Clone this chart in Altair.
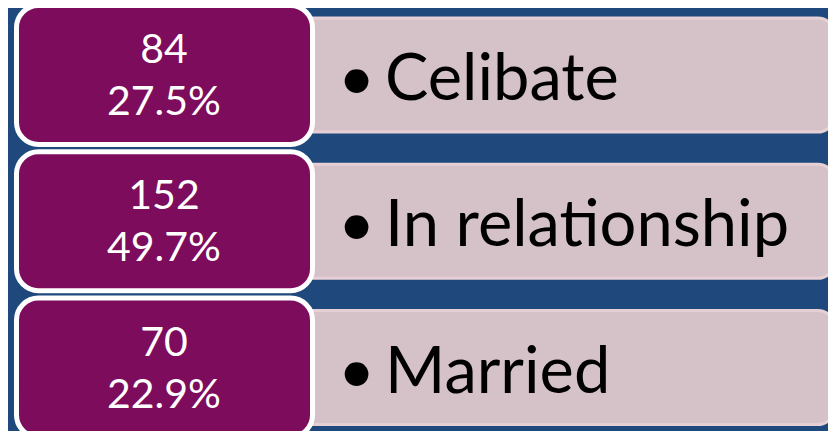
import altair as alt
import pandas as pd

categories = ["Celibate", "In relationship", "Married"]
counts = [84, 152, 70]
percents = [27.5, 49.7, 22.9]

df = pd.DataFrame({
    "category": categories,
    "count": [str(c) for c in counts],
    "pct": [f"{p:.1f}%" for p in percents],
    "bullet": ["•"] * len(categories),
})

BG = "#1f497d"
PURPLE = "#7d0c5d"
PINK = "#d4c2c8"
PINK_EDGE = "#e6d0d5"
FONT = "Lato"

y_box = alt.Y("category:N", sort=categories, axis=None,
              scale=alt.Scale(type="band", range=[-2.5, 429], paddingInner=0.0496, paddingOuter=0))
y_pink = alt.Y("category:N", sort=categories, axis=None,
               scale=alt.Scale(type="band", range=[10, 416.5], paddingInner=0.2205, paddingOuter=0))

base = alt.Chart(df)

pink = base.mark_rect(fill=PINK, stroke=PINK_EDGE, strokeWidth=3, cornerRadius=16).encode(
    x=alt.value(282), x2=alt.value(826), y=y_pink
)

purple = base.mark_rect(fill=PURPLE, stroke="white", strokeWidth=5, cornerRadius=22).encode(
    x=alt.value(8.5), x2=alt.value(304.5), y=y_box
)

num = base.mark_text(font=FONT, fontSize=41, color="white", align="center",
                     baseline="alphabetic", dy=-12).encode(
    x=alt.value(156), y=y_box, text="count:N"
)
pct = base.mark_text(font=FONT, fontSize=41, color="white", align="center",
                     baseline="alphabetic", dy=40).encode(
    x=alt.value(156), y=y_box, text="pct:N"
)
bullet = base.mark_text(font=FONT, fontSize=64, color="black", align="left",
                        baseline="alphabetic", dy=25).encode(
    x=alt.value(330), y=y_box, text="bullet:N"
)
label = base.mark_text(font=FONT, fontSize=65, color="black", align="left",
                       baseline="alphabetic", dy=25).encode(
    x=alt.value(377), y=y_box, text="category:N"
)

chart = alt.layer(pink, purple, num, pct, bullet, label).resolve_scale(
    y="independent"
).properties(
    width=820, height=423, background=BG, padding=0,
    autosize=alt.AutoSizeParams(type="none")
).configure_view(stroke=None)

chart.save("out.html", embed_options={"renderer": "svg", "actions": False})
